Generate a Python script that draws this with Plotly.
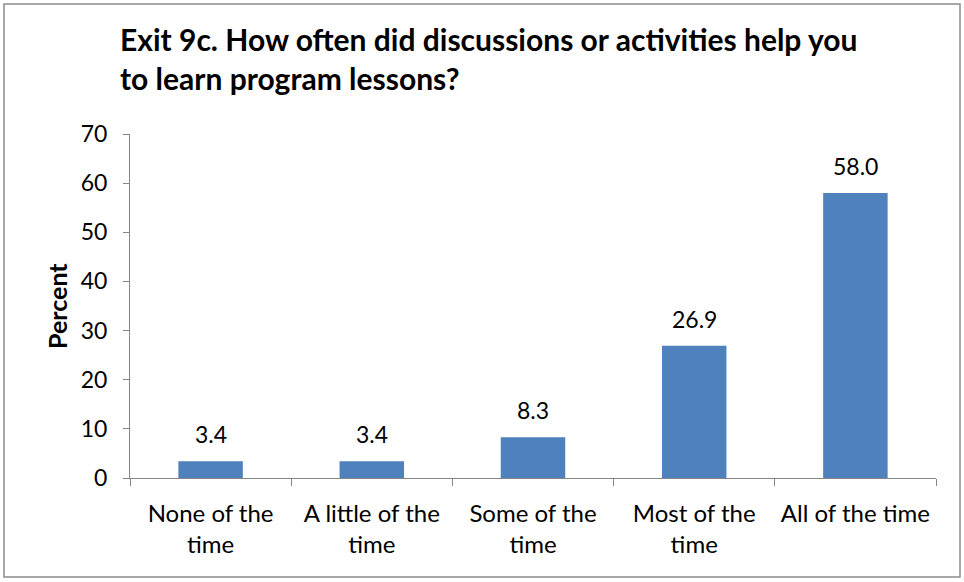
import plotly.graph_objects as go

categories = ["None of the<br>time", "A little of the<br>time", "Some of the<br>time",
              "Most of the<br>time", "All of the time"]
percent = [3.4, 3.4, 8.3, 26.9, 58.0]
y_ticks = [0, 10, 20, 30, 40, 50, 60, 70]

title_text = "Exit 9c. How often did discussions or activities help you<br>to learn program lessons?"

FONT = "Lato"
W, H = 964, 582
L, R, T, B = 130, 28, 134, 104
pw, ph = W - L - R, H - T - B

fig = go.Figure()
fig.add_trace(go.Bar(
    x=categories, y=percent,
    marker=dict(color="#4F81BD", line=dict(width=0)),
    width=0.4,
    hoverinfo="skip",
))

for c, v in zip(categories, percent):
    fig.add_annotation(x=c, y=v, text=f"{v:.1f}", showarrow=False,
                       yanchor="bottom", yshift=11,
                       font=dict(family=FONT, size=23, color="#000000"))

def px_x(p):
    return (p - L) / pw

def px_y(p):
    return (H - B - p) / ph

fig.add_annotation(xref="paper", yref="paper", x=px_x(57), y=px_y(306),
                   text="<b>Percent</b>", textangle=-90, showarrow=False,
                   xanchor="center", yanchor="middle",
                   font=dict(family=FONT, size=25, color="#000000"))

fig.add_shape(type="rect", xref="paper", yref="paper",
              x0=px_x(4), x1=px_x(960), y0=px_y(577), y1=px_y(4),
              line=dict(color="#8c8c8c", width=1.5), fillcolor="rgba(0,0,0,0)",
              layer="below")

fig.update_layout(
    width=W, height=H,
    margin=dict(l=L, r=R, t=T, b=B, pad=0),
    paper_bgcolor="white", plot_bgcolor="white",
    showlegend=False,
    title=dict(text=title_text, x=120 / W, xanchor="left", xref="container",
               y=1 - 51 / H, yanchor="top", yref="container",
               font=dict(family=FONT, size=30, color="#000000", weight="bold")),
    bargap=0.6,
)

fig.update_xaxes(
    showgrid=False, zeroline=False,
    showline=True, linecolor="#868686", linewidth=1,
    ticks="outside", tickson="boundaries", ticklen=7, tickcolor="#868686",
    ticklabelstandoff=14,
    tickfont=dict(family=FONT, size=24, color="#000000"),
)
fig.update_yaxes(
    range=[0, 70], tickvals=y_ticks, showgrid=False, zeroline=False,
    showline=True, linecolor="#868686", linewidth=1,
    ticks="outside", ticklen=6, tickcolor="#868686",
    ticklabelstandoff=11,
    tickfont=dict(family=FONT, size=23, color="#000000"),
)

fig.write_html("out.html", config={"displayModeBar": False},
               post_script="document.body.style.margin='0';")
